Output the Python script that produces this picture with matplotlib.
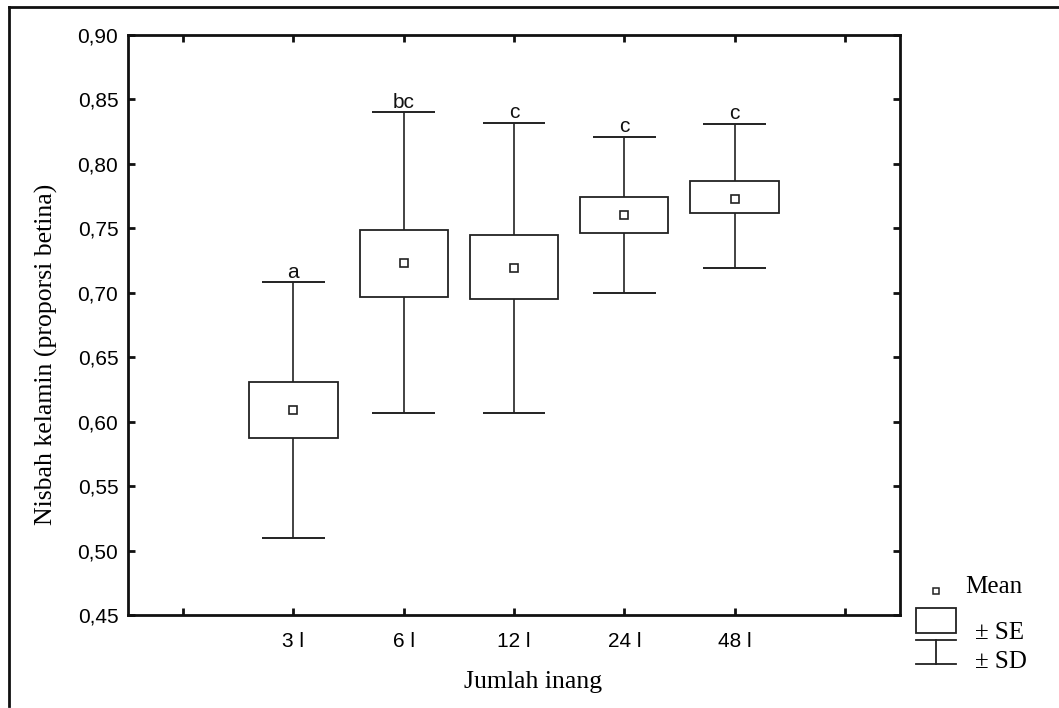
import numpy as np
import matplotlib
matplotlib.use("Agg")
import matplotlib.pyplot as plt
from matplotlib.lines import Line2D
from matplotlib.patches import Rectangle

groups = ["3 l", "6 l", "12 l", "24 l", "48 l"]
means = [0.609, 0.723, 0.719, 0.760, 0.773]
se_low = [0.587, 0.697, 0.695, 0.746, 0.762]
se_high = [0.631, 0.749, 0.745, 0.774, 0.787]
sd_low = [0.510, 0.607, 0.607, 0.700, 0.719]
sd_high = [0.708, 0.840, 0.832, 0.821, 0.831]
letters = ["a", "bc", "c", "c", "c"]

sans = "Liberation Sans"
serif = "Liberation Serif"

fig = plt.figure(figsize=(10.59, 7.08), dpi=100)
ax = fig.add_axes([128 / 1059, 1 - 615 / 708, 772 / 1059, 580 / 708])

x = np.arange(1, len(groups) + 1)
box_w = 0.80
cap_w = 0.57
lc = "#222222"

# whiskers (+- SD)
ax.vlines(x, sd_low, se_low, color=lc, lw=1.2, zorder=2)
ax.vlines(x, se_high, sd_high, color=lc, lw=1.2, zorder=2)
ax.hlines(sd_low, x - cap_w / 2, x + cap_w / 2, color=lc, lw=1.4, zorder=2)
ax.hlines(sd_high, x - cap_w / 2, x + cap_w / 2, color=lc, lw=1.4, zorder=2)

# boxes (+- SE)
ax.bar(x, np.array(se_high) - np.array(se_low), bottom=se_low, width=box_w,
       facecolor="white", edgecolor=lc, linewidth=1.3, zorder=3)

# means
ax.plot(x, means, ls="none", marker="s", ms=5.5, mfc="white", mec=lc, mew=1.2, zorder=4)

# significance letters
for xi, hi, lab in zip(x, sd_high, letters):
    ax.annotate(lab, (xi, hi), xytext=(0, 0.5), textcoords="offset points",
                ha="center", va="bottom", fontsize=15, family=sans, color="#111111")

ax.set_xlim(-0.5, 6.5)
ax.set_ylim(0.45, 0.90)
ax.set_xticks(range(0, 7))
ax.set_xticklabels([""] + groups + [""], family=sans, fontsize=15)
yt = np.arange(0.45, 0.901, 0.05)
ax.set_yticks(yt)
ax.set_yticklabels(["{:.2f}".format(v).replace(".", ",") for v in yt], family=sans, fontsize=15)
ax.tick_params(direction="in", top=True, right=True, length=5, width=2, color="#111111")
ax.tick_params(axis="x", pad=12)
ax.tick_params(axis="y", pad=7)
for s in ax.spines.values():
    s.set_linewidth(2)
    s.set_color("#111111")

ax.set_xlabel("Jumlah inang", family=serif, fontsize=18.5)
ax.xaxis.set_label_coords(0.525, -0.097)
ax.set_ylabel("Nisbah kelamin (proporsi betina)", family=serif, fontsize=18.5)
ax.yaxis.set_label_coords(-0.091, 0.45)

# legend, drawn by hand at the right of the plot
W, H = 1059, 708
def fx(px):
    return px / W
def fy(py):
    return 1 - py / H

fig.add_artist(Line2D([fx(936)], [fy(591)], ls="none", marker="s", ms=5, mfc="white",
                      mec=lc, mew=1.1, transform=fig.transFigure))
fig.text(fx(965), fy(587), "Mean", family=serif, fontsize=18, va="center", ha="left")
fig.add_artist(Rectangle((fx(916), fy(633)), fx(40), 25 / H, fill=False, ec=lc, lw=1.3,
                         transform=fig.transFigure))
fig.add_artist(Line2D([fx(916), fx(956)], [fy(640), fy(640)], color=lc, lw=1.3,
                      transform=fig.transFigure))
fig.add_artist(Line2D([fx(936), fx(936)], [fy(640), fy(664)], color=lc, lw=1.3,
                      transform=fig.transFigure))
fig.add_artist(Line2D([fx(916), fx(956)], [fy(664), fy(664)], color=lc, lw=1.3,
                      transform=fig.transFigure))
fig.text(fx(975), fy(633), "\u00b1 SE", family=serif, fontsize=18, va="center", ha="left")
fig.text(fx(975), fy(662), "\u00b1 SD", family=serif, fontsize=18, va="center", ha="left")

# outer frame (left and top edges of the scanned figure)
fig.add_artist(Line2D([fx(9), fx(9)], [fy(7), fy(706)], color="#111111", lw=2,
                      transform=fig.transFigure))
fig.add_artist(Line2D([fx(9), fx(1059)], [fy(7), fy(7)], color="#111111", lw=2,
                      transform=fig.transFigure))

fig.savefig("out.png", dpi=100)
